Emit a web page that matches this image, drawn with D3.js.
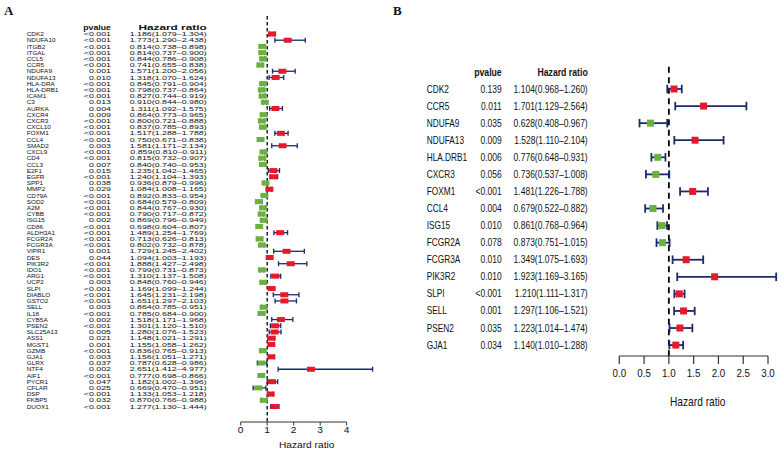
<!DOCTYPE html>
<html>
<head>
<meta charset="utf-8">
<script src="https://cdn.jsdelivr.net/npm/d3@7"></script>
<style>
body { margin: 0; background: #fff; }
text { font-family: "Liberation Sans", Arial, Helvetica, sans-serif; fill: #111; }
</style>
</head>
<body>
<script>
// panel A: univariate cox, 61 genes
var genesA = ["CDK2","NDUFA10","ITGB2","ITGAL","CCL5","CCR5","NDUFA9","NDUFA13","HLA-DRA","HLA-DRB1",
	"ICAM1","C3","AURKA","CXCR4","CXCR3","CXCL10","FOXM1","CCL4","SMAD2","CXCL9",
	"CD4","CCL3","E2F1","EGFR","SPP1","MMP2","CD79A","SOD2","A2M","CYBB",
	"ISG15","CD86","ALDH3A1","FCGR2A","FCGR3A","VIPR1","DES","PIK3R2","IDO1","ARG1",
	"UCP2","SLPI","DIABLO","GSTO2","SELL","IL18","CYB5A","PSEN2","SLC25A13","ASS1",
	"MGST1","GZMB","GJA1","GLRX","NTF4","AIF1","PYCR1","CFLAR","DSP","FKBP5","DUOX1"];
var pvalA = ["<0.001","<0.001","<0.001","<0.001","<0.001","<0.001","0.001","0.010","<0.001","<0.001",
	"<0.001","0.013","0.004","0.009","<0.001","<0.001","<0.001","<0.001","0.003","<0.001",
	"<0.001","0.007","0.015","<0.001","0.038","0.029","<0.001","<0.001","<0.001","<0.001",
	"0.002","<0.001","<0.001","<0.001","<0.001","0.001","0.044","<0.001","<0.001","<0.001",
	"0.003","<0.001","<0.001","<0.001","0.003","<0.001","0.002","<0.001","0.005","0.021",
	"0.001","<0.001","0.003","0.037","0.002","<0.001","0.047","0.025","<0.001","0.032","<0.001"];
var hrA = [1.186,1.773,0.814,0.814,0.844,0.741,1.571,1.318,0.845,0.798,
	0.827,0.910,1.311,0.864,0.800,0.837,1.517,0.750,1.581,0.859,
	0.815,0.840,1.235,1.240,0.936,1.084,0.892,0.684,0.844,0.790,
	0.869,0.698,1.489,0.713,0.802,1.729,1.094,1.888,0.799,1.310,
	0.848,1.169,1.645,1.651,0.864,0.785,1.518,1.301,1.280,1.148,
	1.155,0.836,1.156,0.787,2.651,0.777,1.182,0.669,1.133,0.870,1.277];
var lowA = [1.079,1.290,0.738,0.737,0.786,0.655,1.200,1.070,0.791,0.737,
	0.744,0.844,1.092,0.773,0.721,0.785,1.288,0.671,1.171,0.810,
	0.732,0.740,1.042,1.104,0.879,1.008,0.833,0.579,0.767,0.717,
	0.796,0.604,1.254,0.626,0.732,1.245,1.003,1.427,0.731,1.137,
	0.760,1.099,1.231,1.297,0.785,0.684,1.171,1.120,1.076,1.021,
	1.058,0.765,1.051,0.628,1.412,0.698,1.002,0.470,1.053,0.766,1.130];
var highA = [1.304,2.438,0.898,0.900,0.908,0.838,2.056,1.624,0.904,0.864,
	0.919,0.980,1.575,0.965,0.888,0.893,1.788,0.838,2.134,0.911,
	0.907,0.953,1.465,1.393,0.996,1.165,0.954,0.809,0.930,0.872,
	0.949,0.807,1.769,0.813,0.878,2.402,1.193,2.498,0.873,1.508,
	0.946,1.244,2.198,2.103,0.951,0.900,1.968,1.510,1.523,1.291,
	1.262,0.913,1.271,0.986,4.977,0.866,1.396,0.951,1.218,0.988,1.444];
var ticksA = [0, 1, 2, 3, 4];

// panel B: multivariate cox, 16 genes
var genesB = ["CDK2","CCR5","NDUFA9","NDUFA13","HLA.DRB1","CXCR3","FOXM1","CCL4",
	"ISG15","FCGR2A","FCGR3A","PIK3R2","SLPI","SELL","PSEN2","GJA1"];
var pvalB = ["0.139","0.011","0.035","0.009","0.006","0.056","<0.001","0.004",
	"0.010","0.078","0.010","0.010","<0.001","0.001","0.035","0.034"];
var hrB = [1.104,1.701,0.628,1.528,0.776,0.736,1.481,0.679,0.861,0.873,1.349,1.923,1.210,1.297,1.223,1.140];
var lowB = [0.968,1.129,0.408,1.110,0.648,0.537,1.226,0.522,0.768,0.751,1.075,1.169,1.111,1.106,1.014,1.010];
var highB = [1.260,2.564,0.967,2.104,0.931,1.008,1.788,0.882,0.964,1.015,1.693,3.165,1.317,1.521,1.474,1.288];
var ticksB = [0, 0.5, 1, 1.5, 2, 2.5, 3];

var red = "#e6192b", green = "#6bb23d", navy = "#1c2a6c";

var svg = d3.select("body").append("svg")
	.attr("width", 780)
	.attr("height", 450);

function fmt3(v) { return v.toFixed(3); }

function forest(o) {
	var g = svg.append("g");
	var n = o.genes.length;
	var x = d3.scaleLinear().domain(o.xdom).range(o.xrange);
	var y = d3.scaleLinear().domain([0, n - 1]).range(o.yrange);
	var rows = d3.range(n);

	function txt(sel, xpos, anchor, sx, size, weight) {
		sel.attr("text-anchor", anchor)
			.attr("dy", "0.35em")
			.style("font-size", size + "px")
			.style("font-weight", weight || "normal")
			.attr("transform", function(d, i) { return "translate(" + xpos + "," + y(i) + ") scale(" + sx + ",1)"; });
	}

	// header
	g.append("text").text("pvalue")
		.attr("text-anchor", "end").attr("dy", "0.35em")
		.style("font-size", o.hsize + "px").style("font-weight", "bold")
		.attr("transform", "translate(" + o.pX + "," + y(-1) + ") scale(" + o.hsP + ",1)");
	g.append("text").text("Hazard ratio")
		.attr("text-anchor", "end").attr("dy", "0.35em")
		.style("font-size", o.hsize + "px").style("font-weight", "bold")
		.attr("transform", "translate(" + o.hrX + "," + y(-1) + ") scale(" + o.hsHR + ",1)");

	g.append("g").selectAll("text").data(o.genes).enter().append("text")
		.text(function(d) { return d; })
		.call(txt, o.nameX, "start", o.sName, o.fsize);
	g.append("g").selectAll("text").data(o.pval).enter().append("text")
		.text(function(d) { return d; })
		.call(txt, o.pX, "end", o.sNum, o.fsize);
	g.append("g").selectAll("text").data(rows).enter().append("text")
		.text(function(i) { return fmt3(o.hr[i]) + "(" + fmt3(o.low[i]) + "–" + fmt3(o.high[i]) + ")"; })
		.call(txt, o.hrX, "end", o.sNum, o.fsize);

	// dashed reference line at HR = 1
	g.append("line")
		.attr("x1", x(1)).attr("x2", x(1))
		.attr("y1", o.plotTop).attr("y2", o.axisY)
		.style("stroke", "#000")
		.style("stroke-width", o.dashW)
		.style("stroke-dasharray", o.dash);

	// whiskers
	var ci = g.append("g").style("stroke", navy).style("stroke-width", o.lw);
	ci.selectAll("line.w").data(rows).enter().append("line")
		.attr("x1", function(i) { return x(o.low[i]); })
		.attr("x2", function(i) { return x(o.high[i]); })
		.attr("y1", function(i) { return y(i); })
		.attr("y2", function(i) { return y(i); });
	[o.low, o.high].forEach(function(arr) {
		ci.selectAll(null).data(rows).enter().append("line")
			.attr("x1", function(i) { return x(arr[i]); })
			.attr("x2", function(i) { return x(arr[i]); })
			.attr("y1", function(i) { return y(i) - o.cap / 2; })
			.attr("y2", function(i) { return y(i) + o.cap / 2; });
	});

	// boxes
	g.append("g").selectAll("rect").data(rows).enter().append("rect")
		.attr("x", function(i) { return x(o.hr[i]) - o.bw / 2; })
		.attr("y", function(i) { return y(i) - o.bh / 2; })
		.attr("width", o.bw)
		.attr("height", o.bh)
		.style("fill", function(i) { return o.hr[i] > 1 ? red : green; });

	// x axis
	var ax = g.append("g").style("stroke", "#333").style("stroke-width", o.axW);
	ax.append("line")
		.attr("x1", x(o.ticks[0])).attr("x2", x(o.ticks[o.ticks.length - 1]))
		.attr("y1", o.axisY).attr("y2", o.axisY);
	ax.selectAll("line.t").data(o.ticks).enter().append("line")
		.attr("x1", function(d) { return x(d); }).attr("x2", function(d) { return x(d); })
		.attr("y1", o.axisY).attr("y2", o.axisY + o.tick);
	g.append("g").selectAll("text").data(o.ticks).enter().append("text")
		.text(o.tickFmt)
		.attr("text-anchor", "middle").attr("dy", "0.35em")
		.style("font-size", o.tsize + "px")
		.attr("transform", function(d) { return "translate(" + x(d) + "," + o.tickY + ") scale(" + o.sTick + ",1)"; });

	// xlab centred in plot region (0 .. max upper CI)
	var xc = x(d3.max(o.high) / 2);
	g.append("text").text("Hazard ratio")
		.attr("text-anchor", "middle").attr("dy", "0.35em")
		.style("font-size", o.lsize + "px")
		.attr("transform", "translate(" + xc + "," + o.labY + ") scale(" + o.sTick + ",1)");
}

forest({
	genes: genesA, pval: pvalA, hr: hrA, low: lowA, high: highA, ticks: ticksA,
	xdom: [0, 4], xrange: [240.7, 346.7], yrange: [34, 406.5],
	plotTop: 16, axisY: 422, tick: 3.5, tickY: 430, labY: 445,
	nameX: 26.7, pX: 111, hrX: 206.7,
	fsize: 6.1, sName: 1.05, sNum: 1.45, hsize: 6.4, hsP: 1.37, hsHR: 1.85,
	tsize: 8.5, lsize: 8.5, sTick: 1.2, tickFmt: d3.format("d"),
	bw: 8, bh: 5, cap: 5, lw: 1.3, dashW: 1.3, dash: "3.5,2.5", axW: 1
});

forest({
	genes: genesB, pval: pvalB, hr: hrB, low: lowB, high: highB, ticks: ticksB,
	xdom: [0, 3], xrange: [619.3, 768], yrange: [89, 345.1],
	plotTop: 66.7, axisY: 356, tick: 8, tickY: 373, labY: 402,
	nameX: 426.7, pX: 501.7, hrX: 587.7,
	fsize: 10, sName: 0.83, sNum: 0.85, hsize: 10.5, hsP: 0.83, hsHR: 0.83,
	tsize: 11.5, lsize: 12, sTick: 0.85, tickFmt: d3.format(".1f"),
	bw: 7, bh: 7, cap: 8.5, lw: 1.8, dashW: 1.8, dash: "6,4.5", axW: 1.2
});

// panel letters
svg.append("text").text("A").attr("x", 4).attr("y", 15)
	.style("font-family", "'Liberation Serif', 'Times New Roman', serif")
	.style("font-weight", "bold").style("font-size", "13px");
svg.append("text").text("B").attr("x", 393).attr("y", 15)
	.style("font-family", "'Liberation Serif', 'Times New Roman', serif")
	.style("font-weight", "bold").style("font-size", "13px");
</script>
</body>
</html>
